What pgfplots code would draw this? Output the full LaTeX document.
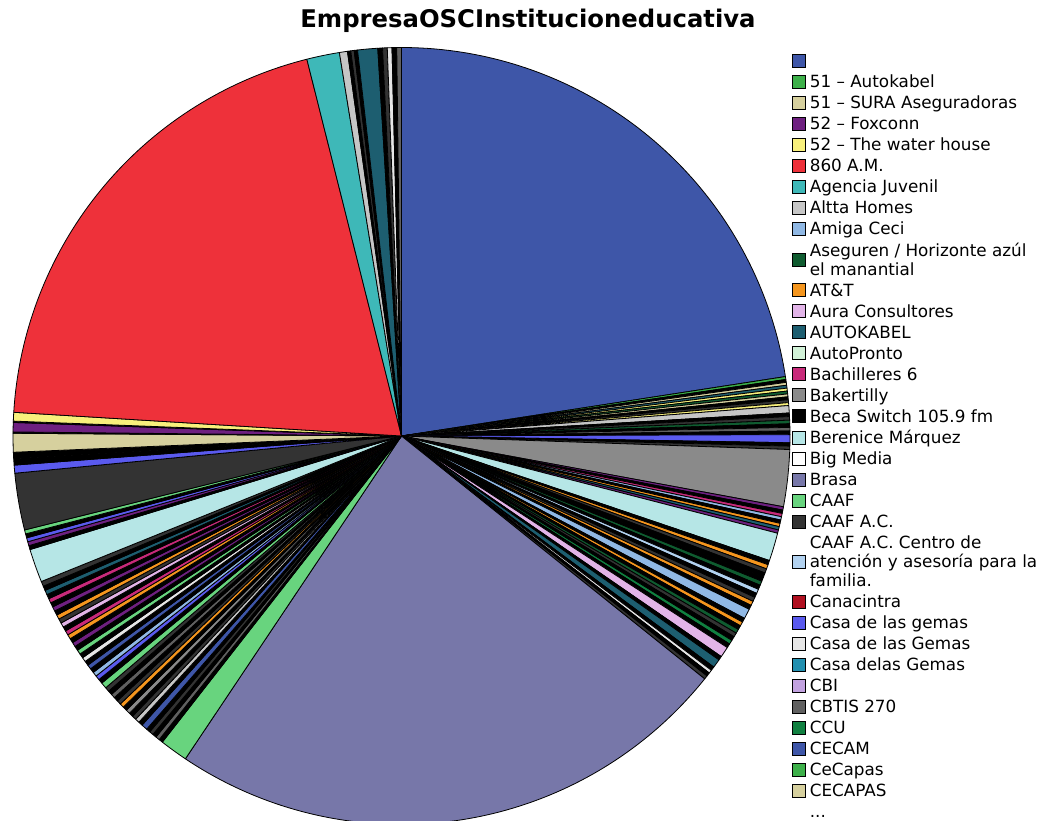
\documentclass[border=0pt]{standalone}
\usepackage{pgfplots}
\pgfplotsset{compat=1.18}
\usepackage{pgfplotstable}
\usepackage{fontspec}
\setmainfont{DejaVu Sans}

\definecolor{c1}{HTML}{3E56A8}
\definecolor{c2}{HTML}{3DB04A}
\definecolor{c3}{HTML}{D6D09E}
\definecolor{c4}{HTML}{6E2080}
\definecolor{c5}{HTML}{F8F07C}
\definecolor{c6}{HTML}{EE313A}
\definecolor{c7}{HTML}{3EB8B8}
\definecolor{c8}{HTML}{C6C6C6}
\definecolor{c9}{HTML}{90B8E4}
\definecolor{c10}{HTML}{0F5C30}
\definecolor{c11}{HTML}{F5961E}
\definecolor{c12}{HTML}{E2B4E8}
\definecolor{c13}{HTML}{1D5E70}
\definecolor{c14}{HTML}{D2F2D8}
\definecolor{c15}{HTML}{C82A7A}
\definecolor{c16}{HTML}{8A8A8A}
\definecolor{c17}{HTML}{000000}
\definecolor{c18}{HTML}{B6E6E6}
\definecolor{c19}{HTML}{FFFFFF}
\definecolor{c20}{HTML}{7777A9}
\definecolor{c21}{HTML}{68D47E}
\definecolor{c22}{HTML}{333333}
\definecolor{c23}{HTML}{B2D2F0}
\definecolor{c24}{HTML}{B01020}
\definecolor{c25}{HTML}{5A5AEE}
\definecolor{c26}{HTML}{E6E6E6}
\definecolor{c27}{HTML}{2290B0}
\definecolor{c28}{HTML}{C2A2E0}
\definecolor{c29}{HTML}{606060}
\definecolor{c30}{HTML}{108040}

% slice shares in degrees (sum = 360), clockwise from 12 o'clock
\pgfplotstableread{
w c
81.2 c1
0.43 c2
0.43 c17
0.43 c3
0.43 c13
0.43 c5
0.43 c10
0.43 c3
0.43 c17
0.43 c22
0.43 c5
1.1 c8
0.53 c17
0.53 c22
0.54 c10
0.53 c17
0.53 c29
0.54 c17
1.2 c25
0.5 c17
0.5 c22
8.5 c16
0.5 c4
0.5 c17
0.5 c15
0.5 c9
0.5 c17
0.5 c11
0.5 c13
0.5 c4
4.2 c18
0.65 c17
0.65 c11
0.65 c22
0.65 c17
0.65 c17
0.65 c10
0.65 c17
0.65 c23
0.65 c17
0.65 c22
0.65 c11
0.65 c17
1.5 c9
0.625 c17
0.625 c11
0.625 c17
0.625 c10
0.625 c22
0.625 c17
0.625 c30
0.625 c17
1.6 c12
0.6 c17
1.3 c13
0.6 c17
0.5 c26
0.55 c17
0.55 c22
85.1 c20
4.2 c21
0.6 c17
0.6 c29
0.6 c17
0.6 c22
0.6 c17
0.9 c1
0.64 c17
0.64 c8
0.64 c22
0.64 c17
0.64 c16
0.64 c17
0.64 c11
0.64 c22
0.64 c17
0.64 c29
0.64 c17
0.66 c22
0.9 c21
0.67 c17
0.67 c25
0.67 c9
0.67 c17
0.67 c1
0.67 c17
0.67 c26
0.67 c17
0.67 c21
0.67 c17
0.67 c4
0.67 c17
0.67 c11
0.67 c15
0.67 c17
0.67 c12
0.67 c22
0.67 c11
0.67 c17
0.67 c4
0.67 c17
0.67 c15
0.67 c17
0.67 c13
0.67 c17
0.75 c22
5.0 c18
0.6 c17
0.6 c4
0.6 c25
0.6 c17
0.6 c21
8.5 c22
1.2 c25
0.95 c17
0.95 c17
2.8 c3
0.2 c17
1.4 c4
0.2 c17
1.3 c5
72.4 c6
4.9 c7
1.2 c8
0.5 c17
0.5 c22
0.5 c17
3.0 c13
0.7 c17
0.7 c22
0.7 c26
0.7 c17
0.7 c29
}\slices

\begin{document}
\begin{tikzpicture}
\useasboundingbox (-401.5pt,-385pt) rectangle (642.5pt,436pt);
\begin{axis}[
  anchor=center, at={(0pt,0pt)},
  x=388.5pt, y=388.5pt,
  xmin=-1, xmax=1, ymin=-1, ymax=1,
  hide axis, clip=false,
  title={EmpresaOSCInstitucioneducativa},
  title style={font=\fontsize{24.3}{28}\selectfont\bfseries, at={(0.6628,1.0185)}, anchor=base, inner sep=0pt},
  legend cell align=left,
  legend style={at={(1.0026,0.9937)}, anchor=north west, draw=none, fill=none, inner sep=0pt,
    row sep=4pt, column sep=0pt,
    font=\fontsize{16.8}{19}\selectfont,
    nodes={inner ysep=1.1pt, inner xsep=4pt, execute at begin node=\strut}},
  legend image code/.code={\draw[#1,draw=black,line width=0.6pt] (0pt,-6.5pt) rectangle (13pt,6.5pt);},
]
\pgfplotstablegetrowsof{\slices}
\pgfmathtruncatemacro{\lastrow}{\pgfplotsretval-1}
\def\cum{0}
\pgfplotsforeachungrouped \i in {0,...,\lastrow}{%
  \pgfplotstablegetelem{\i}{w}\of\slices
  \let\w\pgfplotsretval
  \pgfmathsetmacro{\aS}{90-\cum}%
  \pgfmathsetmacro{\cum}{\cum+\w}%
  \pgfmathsetmacro{\aE}{90-\cum}%
  \pgfmathtruncatemacro{\ns}{max(2,\w+2)}%
  \pgfplotstablegetelem{\i}{c}\of\slices
  \let\col\pgfplotsretval
  \edef\doslice{\noexpand\addplot[forget plot, fill=\col, draw=black, line width=0.8pt, line join=round, domain=\aE:\aS, samples=\ns] ({cos(x)},{sin(x)}) -- (axis cs:0,0) -- cycle;}%
  \doslice
}
\addlegendimage{fill=c1}\addlegendentry{\mbox{}}
\addlegendimage{fill=c2}\addlegendentry{51 – Autokabel}
\addlegendimage{fill=c3}\addlegendentry{51 – SURA Aseguradoras}
\addlegendimage{fill=c4}\addlegendentry{52 – Foxconn}
\addlegendimage{fill=c5}\addlegendentry{52 – The water house}
\addlegendimage{fill=c6}\addlegendentry{860 A.M.}
\addlegendimage{fill=c7}\addlegendentry{Agencia Juvenil}
\addlegendimage{fill=c8}\addlegendentry{Altta Homes}
\addlegendimage{fill=c9}\addlegendentry{Amiga Ceci}
\addlegendimage{fill=c10}\addlegendentry{\begin{tabular}[b]{@{}l@{}}Aseguren / Horizonte azúl\\el manantial\end{tabular}}
\addlegendimage{fill=c11}\addlegendentry{AT\&T}
\addlegendimage{fill=c12}\addlegendentry{Aura Consultores}
\addlegendimage{fill=c13}\addlegendentry{AUTOKABEL}
\addlegendimage{fill=c14}\addlegendentry{AutoPronto}
\addlegendimage{fill=c15}\addlegendentry{Bachilleres 6}
\addlegendimage{fill=c16}\addlegendentry{Bakertilly}
\addlegendimage{fill=c17}\addlegendentry{Beca Switch 105.9 fm}
\addlegendimage{fill=c18}\addlegendentry{Berenice Márquez}
\addlegendimage{fill=c19}\addlegendentry{Big Media}
\addlegendimage{fill=c20}\addlegendentry{Brasa}
\addlegendimage{fill=c21}\addlegendentry{CAAF}
\addlegendimage{fill=c22}\addlegendentry{CAAF A.C.}
\addlegendimage{fill=c23}\addlegendentry{\begin{tabular}[b]{@{}l@{}}CAAF A.C. Centro de\\atención y asesoría para la\\familia.\end{tabular}}
\addlegendimage{fill=c24}\addlegendentry{Canacintra}
\addlegendimage{fill=c25}\addlegendentry{Casa de las gemas}
\addlegendimage{fill=c26}\addlegendentry{Casa de las Gemas}
\addlegendimage{fill=c27}\addlegendentry{Casa delas Gemas}
\addlegendimage{fill=c28}\addlegendentry{CBI}
\addlegendimage{fill=c29}\addlegendentry{CBTIS 270}
\addlegendimage{fill=c30}\addlegendentry{CCU}
\addlegendimage{fill=c1}\addlegendentry{CECAM}
\addlegendimage{fill=c2}\addlegendentry{CeCapas}
\addlegendimage{fill=c3}\addlegendentry{CECAPAS}
\addlegendimage{empty legend}\addlegendentry{...}
\end{axis}
\end{tikzpicture}
\end{document}
